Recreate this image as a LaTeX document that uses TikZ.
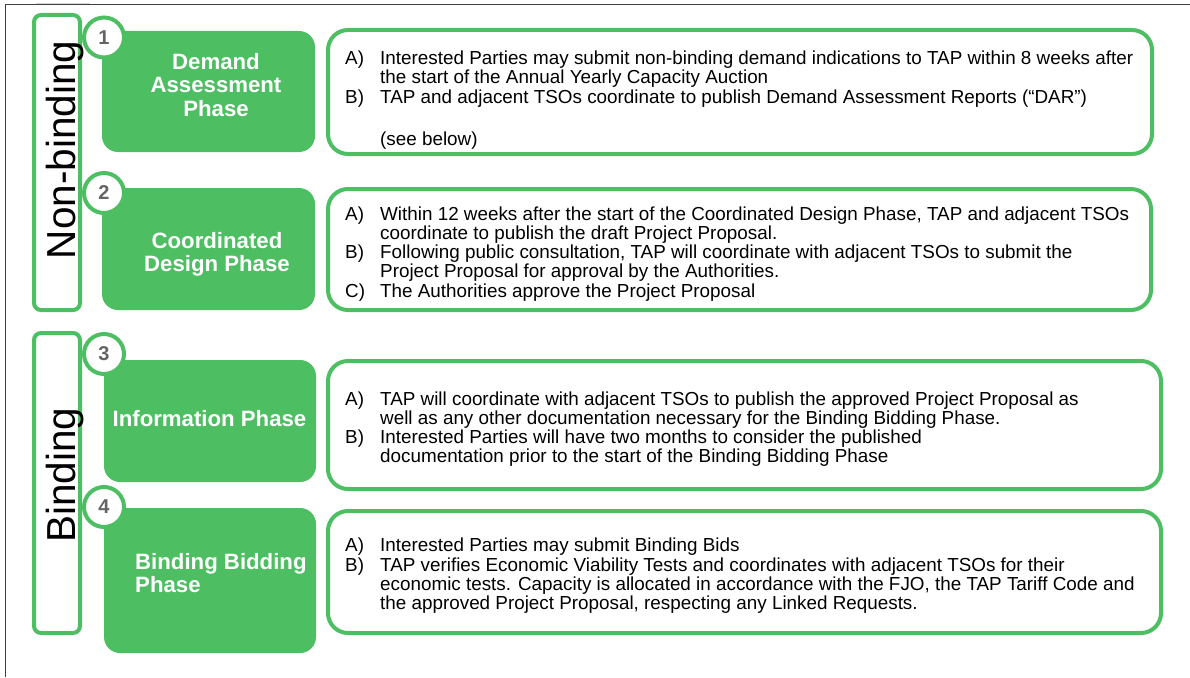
\documentclass[tikz,border=0pt]{standalone}
\usepackage{fontspec}
\setmainfont{Liberation Sans}
\usepackage{array}
\definecolor{tapgreen}{RGB}{78,190,99}
\definecolor{numgray}{RGB}{100,100,100}
\begin{document}
\begin{tikzpicture}[x=1pt,y=-1pt,
  sidebox/.style={draw=tapgreen,line width=4pt,rounded corners=7pt,fill=white,inner sep=0pt},
  sidelabel/.style={font=\fontsize{40.5}{44}\selectfont,rotate=90,anchor=base,inner sep=0pt},
  phasebox/.style={fill=tapgreen,draw=none,rounded corners=16pt,inner sep=0pt},
  phaselabel/.style={text=white,font=\fontsize{22.2}{23.6}\bfseries\selectfont,inner sep=0pt},
  numcircle/.style={circle,draw=tapgreen,line width=4pt,fill=white,minimum size=40pt,inner sep=0pt,text=numgray,font=\fontsize{20}{22}\bfseries\selectfont},
  descbox/.style={draw=tapgreen,line width=4pt,rounded corners=20pt,fill=white,inner sep=0pt},
  desctext/.style={font=\fontsize{18.85}{18.9}\selectfont,inner sep=0pt,anchor=base west}
]
\useasboundingbox (0,0) rectangle (1190,677);
\fill[white] (0,0) rectangle (1190,677);
% page frame
\draw[line width=1pt,black!75] (5,677) -- (5,5) -- (1190,5);
\draw[line width=1pt,black!15] (36,4) -- (90,4);

% side boxes
\node[sidebox,minimum width=46pt,minimum height=295pt] (s1) at (57,162.5) {};
\node[sidebox,minimum width=46pt,minimum height=300pt] (s2) at (57,483) {};
\node[sidelabel] (sl1) at (75.5,150) {Non-binding};
\node[sidelabel] (sl2) at (75.5,475) {Binding};

% phase boxes
\node[phasebox,minimum width=213pt,minimum height=121pt] (p1) at (208.5,91.5) {};
\node[phasebox,minimum width=213pt,minimum height=122pt] (p2) at (208.5,249) {};
\node[phasebox,minimum width=212pt,minimum height=122pt] (p3) at (210,421) {};
\node[phasebox,minimum width=212pt,minimum height=145pt] (p4) at (210,580.5) {};

\node[phaselabel,anchor=base] (pl1) at (216,69.3)
  {\begin{tabular}[t]{@{}c@{}}Demand\\Assessment\\Phase\end{tabular}};
\node[phaselabel,anchor=base] (pl2) at (217,248.3)
  {\begin{tabular}[t]{@{}c@{}}Coordinated\\Design Phase\end{tabular}};
\node[phaselabel,anchor=base] (pl3) at (209.5,426.7) {Information Phase};
\node[phaselabel,anchor=base west] (pl4) at (135,569.3)
  {\begin{tabular}[t]{@{}l@{}}Binding Bidding\\Phase\end{tabular}};

% number circles
\node[numcircle] (n1) at (104,37.5) {1};
\node[numcircle] (n2) at (104,193) {2};
\node[numcircle] (n3) at (104,354) {3};
\node[numcircle] (n4) at (104,507) {4};

% description boxes
\node[descbox,minimum width=824pt,minimum height=124pt] (d1) at (740,92) {};
\node[descbox,minimum width=823pt,minimum height=121pt] (d2) at (739.5,249.5) {};
\node[descbox,minimum width=833pt,minimum height=128pt] (d3) at (744.5,425) {};
\node[descbox,minimum width=833pt,minimum height=122pt] (d4) at (744.5,572) {};

\node[desctext] (t1) at (345,64.5) {\begin{tabular}[t]{@{}p{35pt}@{}l@{}}
A) & Interested Parties may submit non-binding demand indications to TAP within 8 weeks after\\
   & the start of the Annual Yearly Capacity Auction\\
B) & TAP and adjacent TSOs coordinate to publish Demand Assessment Reports (“DAR”)\\
   & \\[4pt]
   & (see below)
\end{tabular}};

\node[desctext] (t2) at (345,220) {\begin{tabular}[t]{@{}p{35pt}@{}l@{}}
A) & Within 12 weeks after the start of the Coordinated Design Phase, TAP and adjacent TSOs\\
   & coordinate to publish the draft Project Proposal.\\
B) & Following public consultation, TAP will coordinate with adjacent TSOs to submit the\\
   & Project Proposal for approval by the Authorities.\\
C) & The Authorities approve the Project Proposal
\end{tabular}};

\node[desctext] (t3) at (345,405) {\begin{tabular}[t]{@{}p{35pt}@{}l@{}}
A) & TAP will coordinate with adjacent TSOs to publish the approved Project Proposal as\\
   & well as any other documentation necessary for the Binding Bidding Phase.\\
B) & Interested Parties will have two months to consider the published\\
   & documentation prior to the start of the Binding Bidding Phase
\end{tabular}};

\node[desctext] (t4) at (345,551.7) {\begin{tabular}[t]{@{}p{35pt}@{}l@{}}
A) & Interested Parties may submit Binding Bids\\
B) & TAP verifies Economic Viability Tests and coordinates with adjacent TSOs for their\\
   & economic tests. Capacity is allocated in accordance with the FJO, the TAP Tariff Code and\\
   & the approved Project Proposal, respecting any Linked Requests.
\end{tabular}};
\end{tikzpicture}
\end{document}
